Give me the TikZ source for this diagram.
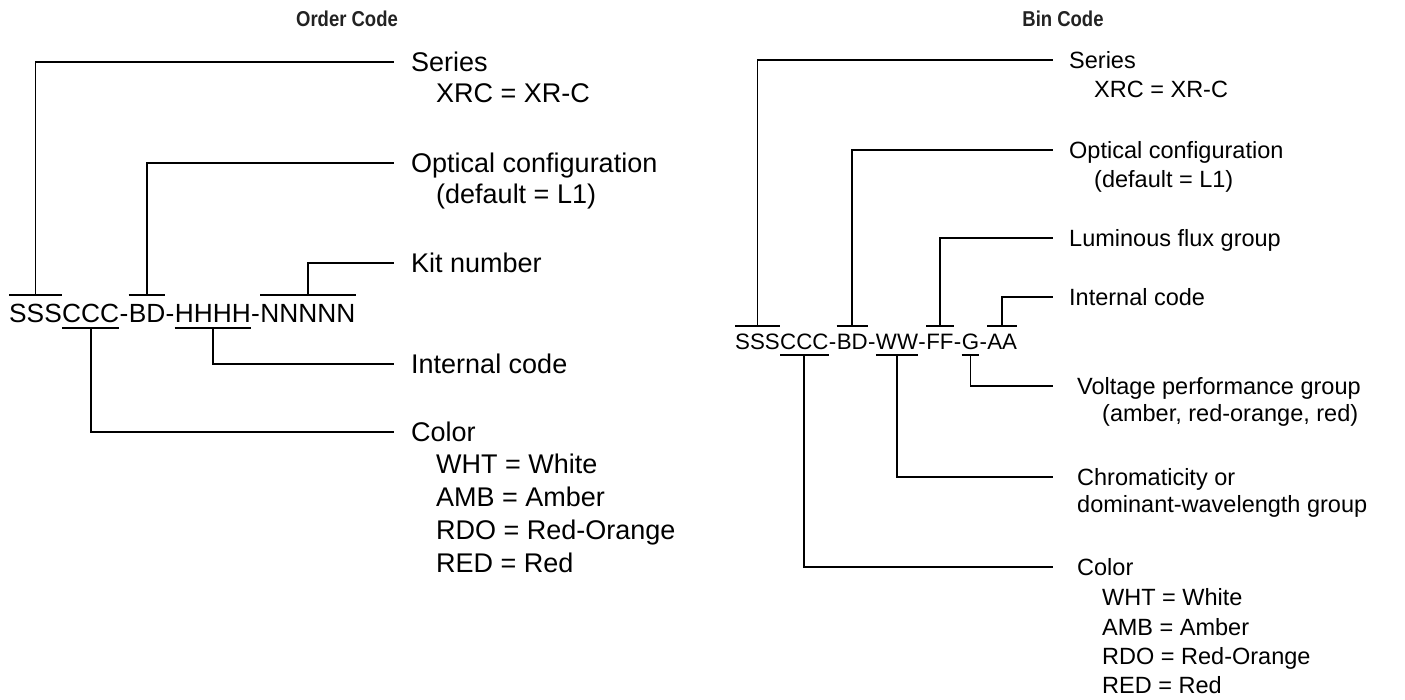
\documentclass[tikz,border=0pt]{standalone}
\usepackage{fontspec}
\setmainfont{Liberation Sans}
\newfontfamily\titlefont[FakeStretch=0.86]{Liberation Sans}
\definecolor{titlegray}{HTML}{222222}
\begin{document}
\begin{tikzpicture}[x=1pt,y=-1pt,
  ln/.style={line width=1.8pt},
  ttl/.style={font=\titlefont\bfseries\fontsize{21.5}{25}\selectfont, text=titlegray, inner sep=0pt},
  segL/.style={anchor=base west, inner sep=0pt, text height=28pt, text depth=5pt, font=\fontsize{26.3}{30}\selectfont},
  segR/.style={anchor=base west, inner sep=0pt, text height=23pt, text depth=6pt, font=\fontsize{22.3}{26}\selectfont},
  labL/.style={anchor=west, inner xsep=17pt, inner ysep=0pt, text height=19.4pt, text depth=0pt, font=\fontsize{27}{32}\selectfont},
  subL/.style={anchor=west, inner sep=0pt, text height=19.4pt, text depth=0pt, font=\fontsize{27}{32}\selectfont},
  labR/.style={anchor=west, inner xsep=16pt, inner ysep=0pt, text height=16.8pt, text depth=0pt, font=\fontsize{23.5}{28}\selectfont},
  labRb/.style={labR, inner xsep=24pt},
  subR/.style={anchor=west, inner sep=0pt, text height=16.8pt, text depth=0pt, font=\fontsize{23.5}{28}\selectfont}
]
\useasboundingbox (0,0) rectangle (1405,700);

% ---------------- Order Code ----------------
\node[ttl] (t1) at (347,19) {Order Code};

\node[segL] (a1) at (9,323) {SSS};
\node[segL] (a2) at (a1.base east) {CCC};
\node[segL] (a3) at (a2.base east) {-};
\node[segL] (a4) at (a3.base east) {BD};
\node[segL] (a5) at (a4.base east) {-};
\node[segL] (a6) at (a5.base east) {HHHH};
\node[segL] (a7) at (a6.base east) {-};
\node[segL] (a8) at (a7.base east) {NNNNN};

\node[labL] (aser) at (394,62) {Series};
\node[subL] (aser2) at (436,93) {XRC = XR-C};
\node[labL] (aopt) at (394,163) {Optical configuration};
\node[subL] (aopt2) at (436,194) {(default = L1)};
\node[labL] (akit) at (394,263) {Kit number};
\node[labL] (aint) at (394,364) {Internal code};
\node[labL] (acol) at (394,432) {Color};
\node[subL] (acol1) at (436,464) {WHT = White};
\node[subL] (acol2) at (436,497) {AMB = Amber};
\node[subL] (acol3) at (436,530) {RDO = Red-Orange};
\node[subL] (acol4) at (436,563) {RED = Red};

\foreach \n in {a1,a4,a8} \draw[ln] (\n.north west) -- (\n.north east);
\foreach \n in {a2,a6} \draw[ln] (\n.south west) -- (\n.south east);
\draw[ln] (a1.north) |- (aser.west);
\draw[ln] (a4.north) |- (aopt.west);
\draw[ln] (a8.north) |- (akit.west);
\draw[ln] (a6.south) |- (aint.west);
\draw[ln] (a2.south) |- (acol.west);

% ---------------- Bin Code ----------------
\node[ttl] (t2) at (1063,19) {Bin Code};

\node[segR] (b1) at (735,349) {SSS};
\node[segR] (b2) at (b1.base east) {CCC};
\node[segR] (b3) at (b2.base east) {-};
\node[segR] (b4) at (b3.base east) {BD};
\node[segR] (b5) at (b4.base east) {-};
\node[segR] (b6) at (b5.base east) {WW};
\node[segR] (b7) at (b6.base east) {-};
\node[segR] (b8) at (b7.base east) {FF};
\node[segR] (b9) at (b8.base east) {-};
\node[segR] (b10) at (b9.base east) {G};
\node[segR] (b11) at (b10.base east) {-};
\node[segR] (b12) at (b11.base east) {AA};

\node[labR] (bser) at (1053,60) {Series};
\node[subR] (bser2) at (1094,89) {XRC = XR-C};
\node[labR] (bopt) at (1053,150) {Optical configuration};
\node[subR] (bopt2) at (1094,179) {(default = L1)};
\node[labR] (blum) at (1053,238) {Luminous flux group};
\node[labR] (bint) at (1053,297) {Internal code};
\node[labRb] (bvol) at (1053,386) {Voltage performance group};
\node[subR] (bvol2) at (1102,413) {(amber, red-orange, red)};
\node[labRb] (bchr) at (1053,477) {Chromaticity or};
\node[subR] (bchr2) at (1077,504) {dominant-wavelength group};
\node[labRb] (bcol) at (1053,567) {Color};
\node[subR] (bcol1) at (1102,597) {WHT = White};
\node[subR] (bcol2) at (1102,627) {AMB = Amber};
\node[subR] (bcol3) at (1102,656) {RDO = Red-Orange};
\node[subR] (bcol4) at (1102,685) {RED = Red};

\foreach \n in {b1,b4,b8,b12} \draw[ln] (\n.north west) -- (\n.north east);
\foreach \n in {b2,b6,b10} \draw[ln] (\n.south west) -- (\n.south east);
\draw[ln] (b1.north) |- (bser.west);
\draw[ln] (b4.north) |- (bopt.west);
\draw[ln] (b8.north) |- (blum.west);
\draw[ln] (b12.north) |- (bint.west);
\draw[ln] (b10.south) |- (bvol.west);
\draw[ln] (b6.south) |- (bchr.west);
\draw[ln] (b2.south) |- (bcol.west);
\end{tikzpicture}
\end{document}
